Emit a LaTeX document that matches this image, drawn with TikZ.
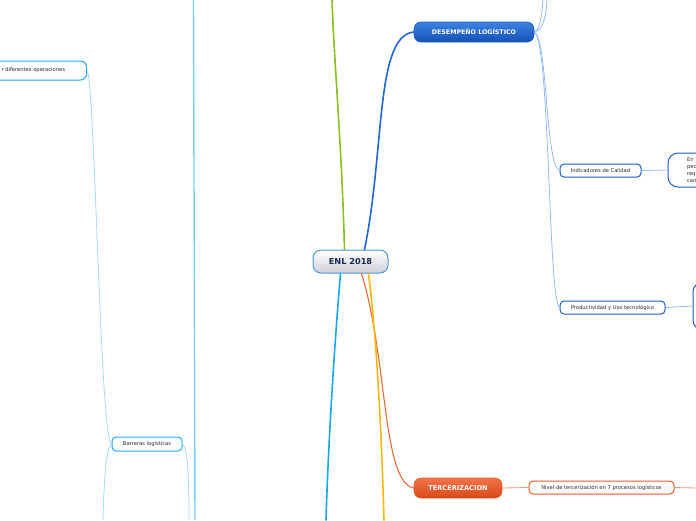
\documentclass[tikz,border=0pt]{standalone}
\usepackage{fontspec}
\setmainfont{DejaVu Sans}
\definecolor{cborder}{HTML}{4A9AD8}
\definecolor{ctext}{HTML}{1A2A50}
\definecolor{dblue}{HTML}{1F66D6}
\definecolor{bluetop}{HTML}{3C82E0}
\definecolor{bluebot}{HTML}{1450B8}
\definecolor{ggreen}{HTML}{88C020}
\definecolor{oline}{HTML}{F06A3A}
\definecolor{orangetop}{HTML}{F27448}
\definecolor{orangebot}{HTML}{D84818}
\definecolor{yline}{HTML}{F8B810}
\definecolor{cline}{HTML}{18A8EC}
\definecolor{lcline}{HTML}{78CCF2}
\definecolor{bsub}{HTML}{94BAF0}
\definecolor{csub}{HTML}{A4DAF4}
\definecolor{osub}{HTML}{F89472}
\definecolor{bborder}{HTML}{1A5CC8}
\definecolor{cborder2}{HTML}{22AAEA}
\definecolor{oborder}{HTML}{E85A28}
\definecolor{stext}{HTML}{262626}
\begin{document}
\begin{tikzpicture}[x=1pt,y=-1pt,
  central/.style={draw=cborder,line width=1pt,rounded corners=8pt,top color=white,bottom color=ctext!22!white,
    minimum width=75pt,minimum height=23pt,inner sep=0pt,font=\fontsize{8.2}{9}\selectfont\bfseries,text=ctext},
  mainblue/.style={draw=bborder,line width=0.6pt,rounded corners=7pt,top color=bluetop,bottom color=bluebot,
    minimum width=120pt,minimum height=20pt,inner sep=0pt,font=\fontsize{6.3}{7}\selectfont\bfseries,text=white},
  mainorange/.style={draw=oborder,line width=0.6pt,rounded corners=7pt,top color=orangetop,bottom color=orangebot,
    minimum width=88pt,minimum height=20pt,inner sep=0pt,font=\fontsize{6.6}{7}\selectfont\bfseries,text=white},
  subnode/.style={fill=white,line width=1pt,rounded corners=4pt,inner sep=0pt,minimum height=13pt,
    font=\fontsize{5.2}{6}\selectfont,text=stext},
  subblue/.style={subnode,draw=bborder},
  subcyan/.style={subnode,draw=cborder2},
  suborange/.style={subnode,draw=oborder},
  mainline/.style={line width=1.6pt,line cap=round},
  thinline/.style={line width=0.8pt}
]
\useasboundingbox (0,0) rectangle (696,520);

% central
\node[central] (enl) at (350.5,261.5) {ENL 2018};

% main branches
\node[mainblue] (des) at (474,32) {DESEMPEÑO LOGÍSTICO};
\node[mainorange] (ter) at (458,488) {TERCERIZACION};

\coordinate (gtop) at (332,0);
\coordinate (ybot) at (384,520);
\coordinate (cbot) at (326,520);

\draw[mainline,ggreen] ([xshift=-6pt]enl.north) .. controls (342,150) and (334,60) .. (gtop);
\draw[mainline,dblue] ([xshift=14pt]enl.north) .. controls (385,150) and (375,36) .. (des.west);
\draw[mainline,oline,line width=1.1pt] ([xshift=11pt]enl.south) .. controls (388,360) and (382,482) .. (ter.west);
\draw[mainline,yline] ([xshift=18pt]enl.south) .. controls (378,350) and (382,450) .. (ybot);
\draw[mainline,cline] ([xshift=-10pt]enl.south) .. controls (334,350) and (328,450) .. (cbot);

% left vertical branch
\coordinate (lvtop) at (193.5,0);
\coordinate (lvbot) at (195,520);
\draw[lcline,line width=1.4pt] (lvtop) -- (lvbot);

% sub nodes of desempeno
\node[subblue,minimum width=81pt] (ind) at (600.5,170.5) {Indicadores de Calidad};
\node[subblue,minimum width=105pt] (prod) at (612.5,307.5) {Productividad y Uso tecnológico};
\node[subnode,draw=bborder,rounded corners=10pt,minimum height=34pt,text width=40pt,inner xsep=19pt,align=left,
  font=\fontsize{5.2}{7}\selectfont] (en) at (707,170) {En\\pec\\req\\can};
\node[subnode,draw=bborder,rounded corners=10pt,minimum height=48pt,minimum width=80pt] (prodr) at (733,306) {};

\coordinate (u1) at (543,0);
\coordinate (u2) at (547,0);
\draw[thinline,bsub] (des.east) .. controls (540,30) and (542,15) .. (u1);
\draw[thinline,bsub] (des.east) .. controls (544,30) and (546,15) .. (u2);
\draw[thinline,bsub] (des.east) .. controls (548,40) and (545,165) .. (ind.west);
\draw[thinline,bsub] (des.east) .. controls (550,40) and (548,300) .. (prod.west);
\draw[thinline,bsub] (ind.east) -- (en.west);
\draw[thinline,bsub] (prod.east) -- (prodr.west);

% tercerizacion
\node[suborange,minimum width=145pt] (niv) at (601.5,487.5) {Nivel de tercerización en 7 procesos logísticos};
\coordinate (nivr) at (696,488);
\draw[thinline,osub] (ter.east) -- (niv.west);
\draw[thinline,osub] (niv.east) -- (nivr);

% left side
\node[subcyan,anchor=east,minimum height=19pt,rounded corners=6pt,inner xsep=21.5pt] (dif) at (87,70.5) {r diferentes operaciones};
\node[subcyan,minimum width=70pt,minimum height=14pt] (bar) at (147,444) {Barreras logísticas};
\coordinate (bl) at (103,520);
\coordinate (br) at (189,520);
\draw[thinline,csub] (dif.east) .. controls (95,80) and (100,440) .. (bar.west);
\draw[thinline,csub] (bar.west) .. controls (106,448) and (104,480) .. (bl);
\draw[thinline,csub] (bar.east) .. controls (188,448) and (189,480) .. (br);
\end{tikzpicture}
\end{document}
